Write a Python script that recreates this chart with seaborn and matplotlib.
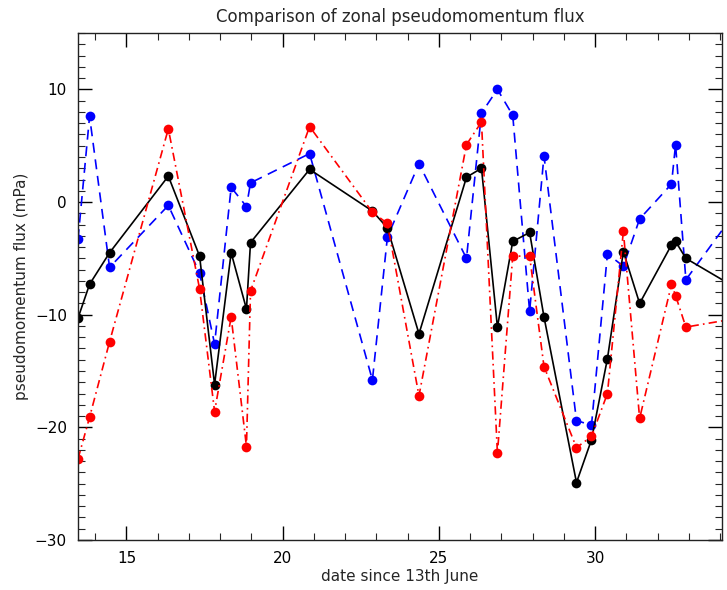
import numpy as np
import pandas as pd
import matplotlib
matplotlib.use("Agg")
import matplotlib.pyplot as plt
import seaborn as sns
from matplotlib.ticker import MultipleLocator

# Dates (days since 13th June)
dias = [13.45, 13.82, 14.46, 16.34, 17.34, 17.82, 18.35, 18.84, 18.97, 20.86,
        22.87, 23.35, 24.36, 25.88, 26.36, 26.87, 27.36, 27.90, 28.36, 29.40,
        29.88, 30.39, 30.90, 31.42, 32.44, 32.57, 32.90, 34.80]

# Flux values (mPa)
flujo_negro = [-10.3, -7.3, -4.5, 2.3, -4.8, -16.2, -4.5, -9.5, -3.6, 2.9,
               -0.8, -2.3, -11.7, 2.2, 3.0, -11.1, -3.5, -2.7, -10.2, -24.9,
               -21.1, -13.9, -4.4, -9.0, -3.8, -3.5, -5.0, -8.1]
flujo_azul = [-3.3, 7.6, -5.8, -0.3, -6.3, -12.6, 1.3, -0.4, 1.7, 4.3,
              -15.8, -3.1, 3.4, -5.0, 7.9, 10.0, 7.7, -9.7, 4.1, -19.4,
              -19.8, -4.6, -5.7, -1.5, 1.6, 5.1, -6.9, 0.3]
flujo_rojo = [-22.8, -19.1, -12.4, 6.5, -7.7, -18.6, -10.2, -21.7, -7.9, 6.7,
              -0.9, -1.9, -17.2, 5.1, 7.1, -22.3, -4.8, -4.8, -14.6, -21.8,
              -20.8, -17.0, -2.6, -19.2, -7.3, -8.3, -11.1, -10.2]

df = pd.DataFrame({'dia': dias, 'negro': flujo_negro, 'azul': flujo_azul, 'rojo': flujo_rojo})

sns.set_style("ticks")
plt.rcParams['font.family'] = ['DejaVu Sans']

fig = plt.figure(figsize=(7.27, 5.90), dpi=100)
ax = fig.add_axes([0.1073, 0.0847, 0.886, 0.8593])

# Blue dashed, then black solid, then red dash-dot
sns.lineplot(x='dia', y='azul', data=df, ax=ax, sort=False, color='#0000ff',
             linestyle=(0, (6, 4)), linewidth=1.2, marker='o', markersize=7,
             markeredgewidth=0)
sns.lineplot(x='dia', y='negro', data=df, ax=ax, sort=False, color='black',
             linestyle='-', linewidth=1.2, marker='o', markersize=7,
             markeredgewidth=0)
sns.lineplot(x='dia', y='rojo', data=df, ax=ax, sort=False, color='#ff0000',
             linestyle=(0, (5, 2.5, 1, 2.5)), linewidth=1.2, marker='o', markersize=7,
             markeredgewidth=0)

ax.set_xlim(13.45, 34.06)
ax.set_ylim(-30, 15)
ax.set_xticks([15, 20, 25, 30])
ax.set_yticks([-30, -20, -10, 0, 10])
ax.xaxis.set_minor_locator(MultipleLocator(1))
ax.yaxis.set_minor_locator(MultipleLocator(1))
ax.tick_params(which='major', direction='in', length=10, width=1, top=True, right=True,
               labelsize=11, pad=8, colors='black')
ax.tick_params(which='minor', direction='in', length=5, width=0.8, top=True, right=True)
for s in ax.spines.values():
    s.set_linewidth(1)
    s.set_color('#222222')

ax.set_title('Comparison of zonal pseudomomentum flux', fontsize=12, pad=8)
ax.set_xlabel('date since 13th June', fontsize=11, labelpad=2)
ax.set_ylabel('pseudomomentum flux (mPa)', fontsize=11, labelpad=4)

plt.savefig('out.png', dpi=100)
